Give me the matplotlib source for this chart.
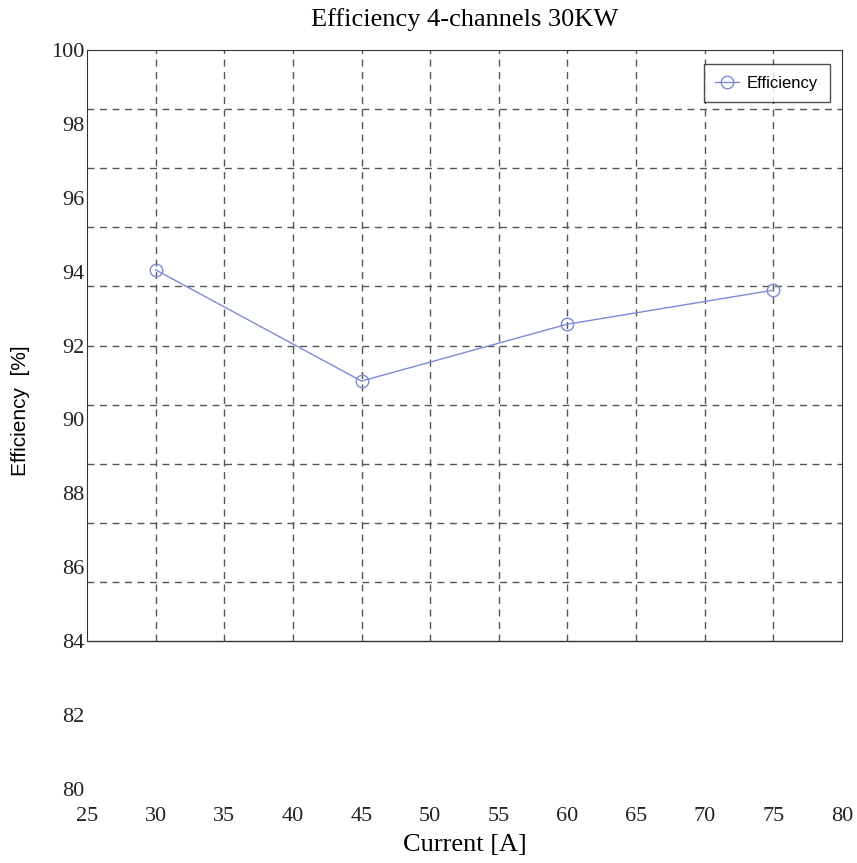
import matplotlib
matplotlib.use("Agg")
import matplotlib.pyplot as plt
import numpy as np

# Данные
current = [30, 45, 60, 75]
efficiency = [94.05, 91.04, 92.58, 93.50]
x_ticks = [25, 30, 35, 40, 45, 50, 55, 60, 65, 70, 75, 80]
y_ticks = [80, 82, 84, 86, 88, 90, 92, 94, 96, 98, 100]

SERIF = ["Liberation Serif", "DejaVu Serif"]
SANS = ["Liberation Sans", "DejaVu Sans"]
LINE_COLOR = "#7b8bd6"
GRID_COLOR = "#555555"

fig = plt.figure(figsize=(8.57, 8.63), dpi=100)
ax = fig.add_axes([87 / 857, 1 - 789 / 863, 755 / 857, 739 / 863])

ax.set_xlim(25, 80)
ax.set_ylim(80, 100)

# рамка графика занимает только участок 84..100
box_lo, box_hi = 84.0, 100.0
ax.spines["bottom"].set_visible(False)
for side in ("left", "right"):
    ax.spines[side].set_bounds(box_lo, box_hi)
    ax.spines[side].set_color("#333333")
ax.spines["top"].set_color("#333333")
ax.hlines(box_lo, 25, 80, color="#333333", linewidth=1.0, clip_on=False)

# сетка внутри рамки (10 интервалов по вертикали)
grid_y = np.linspace(box_lo, box_hi, 11)[1:-1]
ax.hlines(grid_y, 25, 80, colors=GRID_COLOR, linestyles=(0, (5, 4)), linewidth=1.0)
ax.vlines(x_ticks[1:-1], box_lo, box_hi, colors=GRID_COLOR, linestyles=(0, (5, 4)), linewidth=1.0)

ax.plot(current, efficiency, "-o", color=LINE_COLOR, linewidth=1.0,
        markersize=9, markerfacecolor="none", markeredgewidth=1.0, label="Efficiency")

ax.set_xticks(x_ticks)
ax.set_yticks(y_ticks)
ax.set_xticklabels([str(v) for v in x_ticks], family=SERIF, fontsize=16)
ax.set_yticklabels([str(v) for v in y_ticks], family=SERIF, fontsize=16)
ax.tick_params(axis="both", length=0, pad=2, colors="#222222")
ax.tick_params(axis="x", pad=13)

ax.set_title("Efficiency 4-channels 30KW", family=SERIF, fontsize=19, pad=17)
ax.set_xlabel("Current [A]", family=SERIF, fontsize=19, labelpad=6)
ax.set_ylabel("Efficiency  [%]", family=SANS, fontsize=15)
ax.yaxis.set_label_coords(-0.076, (789 - 411) / 739)

leg = ax.legend(loc="upper right", bbox_to_anchor=(0.984, 0.981), prop={"family": SANS, "size": 12},
                frameon=True, fancybox=False, handlelength=1.4, handletextpad=0.5,
                borderpad=0.7, borderaxespad=0)
leg.get_frame().set_edgecolor("#222222")
leg.get_frame().set_linewidth(1.0)

fig.savefig("out.png", dpi=100)
